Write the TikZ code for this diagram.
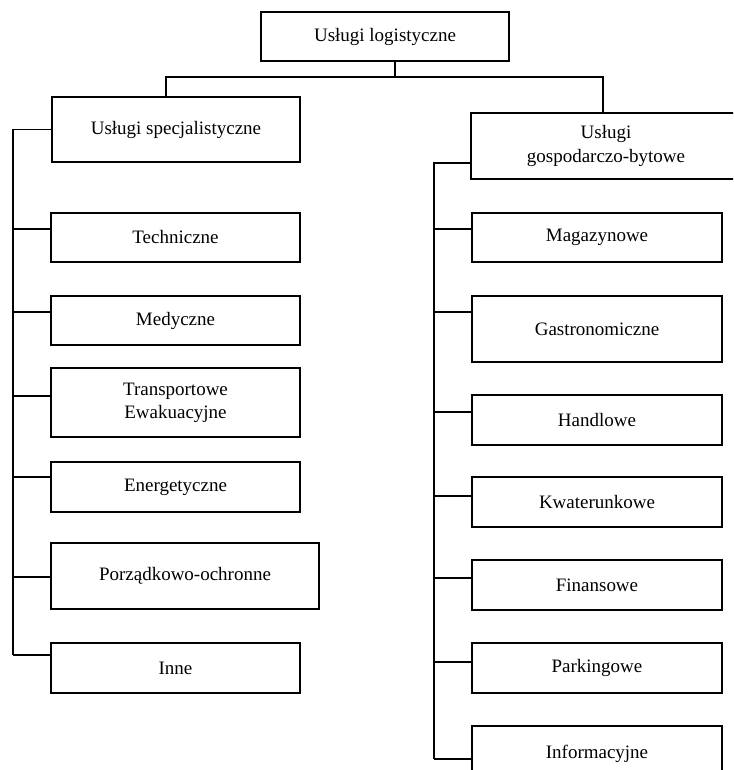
\documentclass[tikz,border=0pt]{standalone}
\usepackage{fontspec}
\setmainfont{Liberation Serif}

\tikzset{
    box/.style={draw,rectangle,inner sep=0pt,align=center,
        font=\fontsize{13.5}{16.5}\selectfont},
}

\begin{document}
\begin{tikzpicture}[x=0.025cm,y=-0.025cm,line width=0.9pt]
    \clip (0,0) rectangle (733,770);

    % Root
    \node [box,minimum width=6.2cm,minimum height=1.225cm] (top) at (385,36.5) {Usługi logistyczne};

    % Two main groups
    \node [box,minimum width=6.2cm,minimum height=1.625cm] (spec) at (176,129.5) {Usługi specjalistyczne};
    \node [box,minimum width=6.75cm,minimum height=1.65cm] (gosp) at (606,146) {Usługi\\gospodarczo-bytowe};

    % Left column
    \node [box,minimum width=6.225cm,minimum height=1.225cm] (tech) at (175.5,237.5) {Techniczne};
    \node [box,minimum width=6.225cm,minimum height=1.225cm] (med) at (175.5,320.5) {Medyczne};
    \node [box,minimum width=6.225cm,minimum height=1.725cm] (trans) at (175.5,402.5) {Transportowe\\Ewakuacyjne};
    \node [box,minimum width=6.225cm,minimum height=1.25cm] (ener) at (175.5,487) {Energetyczne};
    \node [box,minimum width=6.7cm,minimum height=1.65cm] (porz) at (185,576) {Porządkowo-ochronne};
    \node [box,minimum width=6.225cm,minimum height=1.25cm] (inne) at (175.5,668) {Inne};

    % Right column
    \node [box,minimum width=6.25cm,minimum height=1.225cm] (mag) at (597,237.5) {Magazynowe};
    \node [box,minimum width=6.25cm,minimum height=1.65cm] (gast) at (597,329) {Gastronomiczne};
    \node [box,minimum width=6.25cm,minimum height=1.25cm] (hand) at (597,420) {Handlowe};
    \node [box,minimum width=6.25cm,minimum height=1.25cm] (kwat) at (597,502) {Kwaterunkowe};
    \node [box,minimum width=6.25cm,minimum height=1.25cm] (fin) at (597,585) {Finansowe};
    \node [box,minimum width=6.25cm,minimum height=1.25cm] (park) at (597,668) {Parkingowe};
    \node [box,minimum width=6.25cm,minimum height=1.4cm] (info) at (597,754) {Informacyjne};

    % Tree from the root
    \coordinate (bus) at (395,77);
    \draw (top.south -| bus) -- (bus);
    \draw (spec.north -| 166,0) |- (bus) -| (gosp.north -| 603,0);

    % Spines
    \coordinate (ls) at (13,0);
    \coordinate (rs) at (434,0);
    \draw (spec.west) -| (ls |- 0,655);
    \draw (gosp.west |- 0,163) -| (rs |- 0,759);

    % Branches
    \foreach \n/\y in {tech/229,med/312,trans/396,ener/477,porz/577,inne/655} {
        \draw (ls |- 0,\y) -- (\n.west |- 0,\y);
    }
    \foreach \n/\y in {mag/229,gast/312,hand/412,kwat/496,fin/578,park/662,info/759} {
        \draw (rs |- 0,\y) -- (\n.west |- 0,\y);
    }
\end{tikzpicture}
\end{document}
